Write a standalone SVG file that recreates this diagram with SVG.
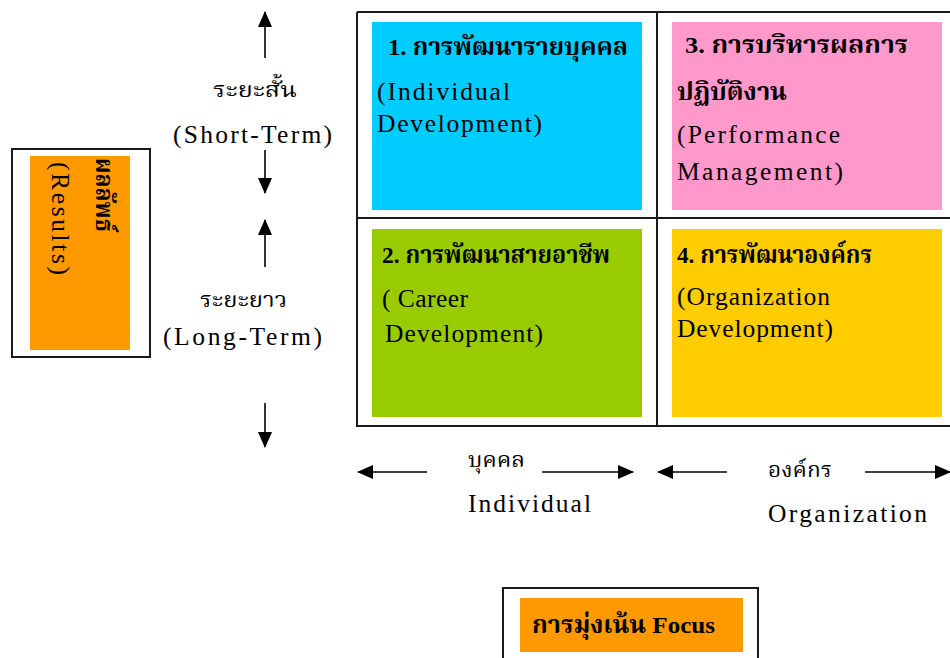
<svg xmlns="http://www.w3.org/2000/svg" width="950" height="658" viewBox="0 0 950 658">
  <style>
    .frame { fill: #ffffff; stroke: #1a1a1a; stroke-width: 2; }
    .grid { fill: none; stroke: #1a1a1a; stroke-width: 2; }
    .en { font-family: "Liberation Serif", "Times New Roman", serif; font-size: 25.5px; fill: #000; }
    .th { font-family: "Liberation Serif", "Noto Serif Thai", "Noto Sans Thai", serif; font-size: 22px; fill: #000; }
    .thb { font-family: "Liberation Serif", "Noto Serif Thai", "Noto Sans Thai", serif; font-size: 24px; font-weight: bold; fill: #000; }
    .arrow { stroke: #000; stroke-width: 1.6; fill: none; marker-end: url(#head); }
  </style>
  <defs>
    <marker id="head" markerUnits="userSpaceOnUse" markerWidth="16" markerHeight="14" viewBox="0 0 16 14" refX="15" refY="7" orient="auto">
      <path d="M0,0 L16,7 L0,14 Z" fill="#000"/>
    </marker>
  </defs>

  <rect width="950" height="658" fill="#ffffff"/>

  <!-- Results side label -->
  <g id="results">
    <rect class="frame" x="12" y="149" width="138" height="208"/>
    <rect x="30" y="156" width="100" height="194" fill="#ff9900"/>
    <text class="thb" transform="translate(96,158) rotate(90)" textLength="74" lengthAdjust="spacingAndGlyphs">ผลลัพธ์</text>
    <text class="en" transform="translate(52,162) rotate(90)" textLength="113" lengthAdjust="spacing">(Results)</text>
  </g>

  <!-- 2x2 matrix -->
  <g id="matrix">
    <path class="grid" d="M357,12 H952 M357,12 V426 H952 M657,12 V426 M357,218 H952"/>
  </g>

  <g id="q1">
    <rect x="372" y="22" width="270" height="188" fill="#00ccff"/>
    <text class="thb" x="388" y="55" textLength="240" lengthAdjust="spacingAndGlyphs">1. การพัฒนารายบุคคล</text>
    <text class="en" x="377" y="100" textLength="133" lengthAdjust="spacing">(Individual</text>
    <text class="en" x="377" y="132" textLength="165" lengthAdjust="spacing">Development)</text>
  </g>

  <g id="q3">
    <rect x="672" y="22" width="270" height="188" fill="#ff99cc"/>
    <text class="thb" x="685" y="53" textLength="223" lengthAdjust="spacingAndGlyphs">3. การบริหารผลการ</text>
    <text class="thb" x="677" y="100" textLength="110" lengthAdjust="spacingAndGlyphs">ปฏิบัติงาน</text>
    <text class="en" x="677" y="143" textLength="163" lengthAdjust="spacing">(Performance</text>
    <text class="en" x="677" y="180" textLength="166" lengthAdjust="spacing">Management)</text>
  </g>

  <g id="q2">
    <rect x="372" y="229" width="270" height="188" fill="#99cc00"/>
    <text class="thb" x="382" y="263" textLength="228" lengthAdjust="spacingAndGlyphs">2. การพัฒนาสายอาชีพ</text>
    <text class="en" x="382" y="307" textLength="86" lengthAdjust="spacing">( Career</text>
    <text class="en" x="385" y="342" textLength="158" lengthAdjust="spacing">Development)</text>
  </g>

  <g id="q4">
    <rect x="672" y="229" width="270" height="188" fill="#ffcc00"/>
    <text class="thb" x="677" y="263" textLength="195" lengthAdjust="spacingAndGlyphs">4. การพัฒนาองค์กร</text>
    <text class="en" x="677" y="305" textLength="153" lengthAdjust="spacing">(Organization</text>
    <text class="en" x="677" y="337" textLength="156" lengthAdjust="spacing">Development)</text>
  </g>

  <!-- time-horizon labels -->
  <g id="short-term">
    <text class="th" x="213" y="97" textLength="84" lengthAdjust="spacingAndGlyphs">ระยะสั้น</text>
    <text class="en" x="173" y="143" textLength="159" lengthAdjust="spacing">(Short-Term)</text>
  </g>
  <g id="long-term">
    <text class="th" x="200" y="307" textLength="87" lengthAdjust="spacingAndGlyphs">ระยะยาว</text>
    <text class="en" x="163" y="345" textLength="159" lengthAdjust="spacing">(Long-Term)</text>
  </g>

  <!-- focus-axis labels -->
  <g id="individual">
    <text class="th" x="468" y="467" textLength="57" lengthAdjust="spacingAndGlyphs">บุคคล</text>
    <text class="en" x="468" y="512" textLength="123" lengthAdjust="spacing">Individual</text>
  </g>
  <g id="organization">
    <text class="th" x="768" y="477" textLength="64" lengthAdjust="spacingAndGlyphs">องค์กร</text>
    <text class="en" x="768" y="522" textLength="159" lengthAdjust="spacing">Organization</text>
  </g>

  <!-- focus caption -->
  <g id="focus">
    <rect class="frame" x="503" y="588" width="255" height="90"/>
    <rect x="520" y="598" width="223" height="54" fill="#ff9900"/>
    <text class="thb" x="532" y="633" textLength="183" lengthAdjust="spacingAndGlyphs">การมุ่งเน้น Focus</text>
  </g>

  <!-- arrows -->
  <g id="connectors">
    <line class="arrow" x1="265" y1="58" x2="265" y2="12"/>
    <line class="arrow" x1="265" y1="150" x2="265" y2="193"/>
    <line class="arrow" x1="265" y1="267" x2="265" y2="220"/>
    <line class="arrow" x1="265" y1="403" x2="265" y2="447"/>
    <line class="arrow" x1="427" y1="472" x2="358" y2="472"/>
    <line class="arrow" x1="542" y1="472" x2="633" y2="472"/>
    <line class="arrow" x1="727" y1="472" x2="658" y2="472"/>
    <line class="arrow" x1="865" y1="472" x2="950" y2="472"/>
  </g>
</svg>
